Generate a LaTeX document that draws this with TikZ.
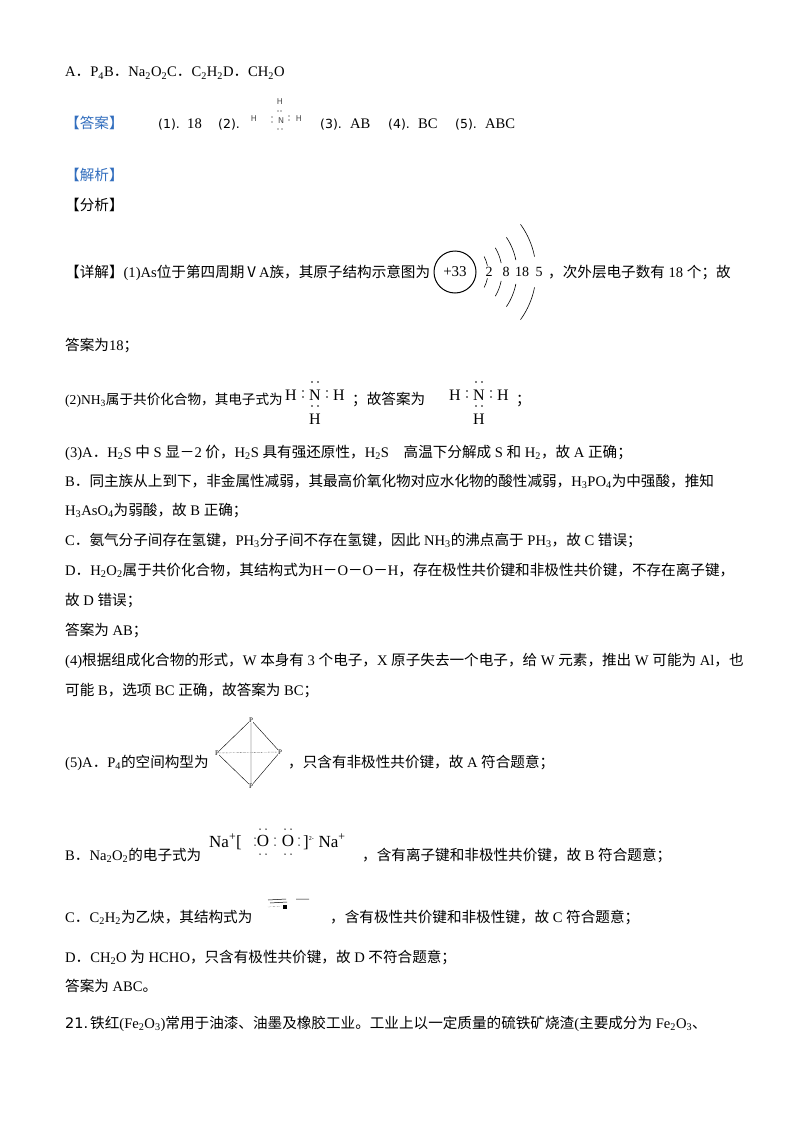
\documentclass[tikz,border=0pt]{standalone}
\usepackage{fontspec}
\setmainfont{Liberation Serif}
\newfontfamily\cjk{Noto Sans CJK SC}
\newfontfamily\sansf{DejaVu Sans}
\XeTeXinterchartokenstate=1
\newXeTeXintercharclass\cjkcls
\newcount\cc
\def\setrange#1#2{\cc=#1 \loop\XeTeXcharclass\cc=\cjkcls \ifnum\cc<#2 \advance\cc by 1 \repeat}
\setrange{"3000}{"303F}
\setrange{"FF00}{"FFEF}
\setrange{"4E00}{"9FFF}
\setrange{"2160}{"217F}
\XeTeXinterchartoks 0 \cjkcls = {\begingroup\cjk}
\XeTeXinterchartoks 4095 \cjkcls = {\begingroup\cjk}
\XeTeXinterchartoks \cjkcls 0 = {\endgroup}
\XeTeXinterchartoks \cjkcls 4095 = {\endgroup}
\newcommand\dn[1]{\textsubscript{#1}}
\newcommand\up[1]{\textsuperscript{#1}}
\definecolor{tagblue}{RGB}{50,110,190}
\begin{document}
\begin{tikzpicture}[x=1pt,y=-1pt,
  line/.style={anchor=base west,inner sep=0,font=\fontsize{14.6}{16}\selectfont},
  sm/.style={inner sep=0,font=\fontsize{8}{9}\selectfont\sansf,text=black!70},
  el/.style={inner sep=0,font=\fontsize{16}{17}\selectfont},
  dot/.style={fill=black,circle,inner sep=0,minimum size=1.6pt},
  pp/.style={inner sep=0,font=\fontsize{7}{8}\selectfont}]
\useasboundingbox (0,0) rectangle (800,1132);
\fill[white] (0,0) rectangle (800,1132);

\node[line] (l1) at (65,77) {A．P\dn{4}B．Na\dn{2}O\dn{2}C．C\dn{2}H\dn{2}D．CH\dn{2}O};
\node[line,text=tagblue] (ans) at (65,128) {【答案】};
\node[line,font=\fontsize{12.5}{14}\selectfont\sansf] (a1) at (158,128) {(1).};
\node[line] (a1b) at (187,128) {18};
\node[line,font=\fontsize{12.5}{14}\selectfont\sansf] (a2) at (218,128) {(2).};
\node[sm] (nh1) at (254,119) {H};
\node[sm] (nh2) at (281,121) {N};
\node[sm] (nh3) at (299,119) {H};
\node[sm] (nh4) at (280,102) {H};
\node[dot,minimum size=1.3pt] (d1) at (278,111) {}; \node[dot,minimum size=1.3pt] (d2) at (281,111) {};
\node[dot,minimum size=1.3pt] (d3) at (272,117) {}; \node[dot,minimum size=1.3pt] (d4) at (272,122) {};
\node[dot,minimum size=1.3pt] (d5) at (289,116) {}; \node[dot,minimum size=1.3pt] (d6) at (289,120) {};
\node[dot,minimum size=1.3pt] (d7) at (278,129) {}; \node[dot,minimum size=1.3pt] (d8) at (282,129) {};
\node[line,font=\fontsize{12.5}{14}\selectfont\sansf] (a3) at (320,128) {(3).};
\node[line] (a3b) at (350,128) {AB};
\node[line,font=\fontsize{12.5}{14}\selectfont\sansf] (a4) at (388,128) {(4).};
\node[line] (a4b) at (418,128) {BC};
\node[line,font=\fontsize{12.5}{14}\selectfont\sansf] (a5) at (455,128) {(5).};
\node[line] (a5b) at (485,128) {ABC};

\node[line,text=tagblue] (jx) at (65,180) {【解析】};
\node[line] (fx) at (65,210) {【分析】};

\node[line] (l5) at (65,277) {【详解】(1)As位于第四周期ⅤA族，其原子结构示意图为};
\node[draw,circle,line width=1pt,minimum size=42pt,inner sep=0,font=\fontsize{15}{16}\selectfont] (nuc) at (455,272) {+33};
\foreach \r/\a in {33/28,47/31,62/34,81/36}{
  \draw[line width=0.6pt] (455,272) ++(11:\r) arc[start angle=11,end angle=\a,radius=\r];
  \draw[line width=0.6pt] (455,272) ++(-11:\r) arc[start angle=-11,end angle=-\a,radius=\r];
}
\node[el,font=\fontsize{14}{15}\selectfont] (e1) at (489,272) {2};
\node[el,font=\fontsize{14}{15}\selectfont] (e2) at (506,272) {8};
\node[el,font=\fontsize{14}{15}\selectfont] (e3) at (522,272) {18};
\node[el,font=\fontsize{14}{15}\selectfont] (e4) at (539,272) {5};
\node[line] (l5b) at (548,277) {，次外层电子数有 18 个；故};
\node[line] (l6) at (65,350) {答案为18；};

\node[line,font=\fontsize{13.6}{15}\selectfont] (l7) at (65,404) {(2)NH\dn{3}属于共价化合物，其电子式为};
\foreach \n/\x in {A/6,B/170}{
  \node[el] (H1\n) at (285+\x,395) {H};
  \node[el] (N\n) at (309+\x,395) {N};
  \node[el] (H2\n) at (333+\x,395) {H};
  \node[el] (H3\n) at (309+\x,419) {H};
  \node[dot] at (306+\x,382) {}; \node[dot] at (312+\x,382) {};
  \node[dot] at (306+\x,406) {}; \node[dot] at (312+\x,406) {};
  \node[dot] at (297+\x,391) {}; \node[dot] at (297+\x,397) {};
  \node[dot] at (321+\x,391) {}; \node[dot] at (321+\x,397) {};
}
\node[line] (l7b) at (352,404) {；故答案为};
\node[line] (l7c) at (516,404) {；};

\node[line] (l8) at (65,457) {(3)A．H\dn{2}S 中 S 显－2 价，H\dn{2}S 具有强还原性，H\dn{2}S\quad 高温下分解成 S 和 H\dn{2}，故 A 正确；};
\node[line] (l9) at (65,486) {B．同主族从上到下，非金属性减弱，其最高价氧化物对应水化物的酸性减弱，H\dn{3}PO\dn{4}为中强酸，推知};
\node[line] (l10) at (65,515) {H\dn{3}AsO\dn{4}为弱酸，故 B 正确；};
\node[line] (l11) at (65,545) {C．氨气分子间存在氢键，PH\dn{3}分子间不存在氢键，因此 NH\dn{3}的沸点高于 PH\dn{3}，故 C 错误；};
\node[line] (l12) at (65,575) {D．H\dn{2}O\dn{2}属于共价化合物，其结构式为H－O－O－H，存在极性共价键和非极性共价键，不存在离子键，};
\node[line] (l13) at (65,605) {故 D 错误；};
\node[line] (l14) at (65,635) {答案为 AB；};
\node[line] (l15) at (65,665) {(4)根据组成化合物的形式，W 本身有 3 个电子，X 原子失去一个电子，给 W 元素，推出 W 可能为 Al，也};
\node[line] (l16) at (65,695) {可能 B，选项 BC 正确，故答案为 BC；};

\node[line] (l17) at (65,767) {(5)A．P\dn{4}的空间构型为};
\node[pp] (pt) at (251,720) {P};
\node[pp] (pl) at (217,753) {P};
\node[pp] (pr) at (280,752) {P};
\node[pp] (pb) at (251,786) {P};
\draw[line width=0.4pt] (pt) -- (pl) -- (pb) -- (pr) -- (pt) (pt) -- (pb);
\draw[line width=0.4pt,densely dotted] (pl) -- (pr);
\node[line] (l17b) at (288,767) {，只含有非极性共价键，故 A 符合题意；};

\node[line] (l18) at (65,860) {B．Na\dn{2}O\dn{2}的电子式为};
\begin{scope}[every node/.style={inner sep=0,font=\fontsize{17}{18}\selectfont}]
\node[anchor=base west] (na1) at (209,847) {Na\up{+}[};
\node (o1) at (263,841) {O};
\node (o2) at (288,841) {O};
\node[anchor=base west] (na2) at (303,847) {]\up{\fontsize{6}{7}\selectfont 2-} Na\up{+}};
\end{scope}
\foreach \x in {263,288}{
  \node[dot,minimum size=1.5pt] at (\x-3,829) {}; \node[dot,minimum size=1.5pt] at (\x+3,829) {};
  \node[dot,minimum size=1.5pt] at (\x-3,854) {}; \node[dot,minimum size=1.5pt] at (\x+3,854) {};
}
\foreach \x in {255,275,299}{
  \node[dot,minimum size=1.5pt] at (\x,838) {}; \node[dot,minimum size=1.5pt] at (\x,845) {};
}
\node[line] (l18b) at (362,860) {，含有离子键和非极性共价键，故 B 符合题意；};

\node[line] (l19) at (65,922) {C．C\dn{2}H\dn{2}为乙炔，其结构式为};
\draw[line width=0.5pt] (268,900) -- (286,899) (270,903) -- (287,902) (296,899) -- (309,899);
\draw[line width=0.3pt,densely dotted] (268,907) -- (282,906);
\fill (283,905) rectangle (287,909);
\node[line] (l19b) at (330,922) {，含有极性共价键和非极性键，故 C 符合题意；};

\node[line] (l20) at (65,962) {D．CH\dn{2}O 为 HCHO，只含有极性共价键，故 D 不符合题意；};
\node[line] (l21) at (65,991) {答案为 ABC。};
\node[line,font=\fontsize{14.5}{16}\selectfont\sansf] (q21) at (65,1028) {21.};
\node[line] (l22) at (90,1028) {铁红(Fe\dn{2}O\dn{3})常用于油漆、油墨及橡胶工业。工业上以一定质量的硫铁矿烧渣(主要成分为 Fe\dn{2}O\dn{3}、};
\end{tikzpicture}
\end{document}
